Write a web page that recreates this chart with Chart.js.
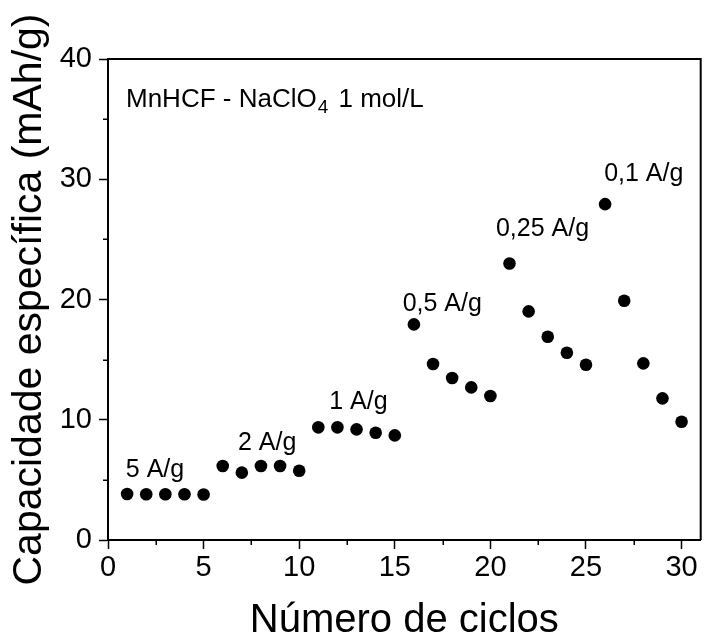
<!DOCTYPE html>
<html>
<head>
<meta charset="utf-8">
<script src="https://cdn.jsdelivr.net/npm/chart.js@4/dist/chart.umd.min.js"></script>
<style>
html,body{margin:0;padding:0;background:#fff;}
#wrap{width:707px;height:641px;}
canvas{display:block;}
</style>
</head>
<body>
<div id="wrap"><canvas id="c" width="707" height="641"></canvas></div>
<script>
// ---- data ----
const cycles = [1,2,3,4,5,6,7,8,9,10,11,12,13,14,15,16,17,18,19,20,21,22,23,24,25,26,27,28,29,30];
const capacity = [3.82,3.80,3.80,3.80,3.78,6.15,5.60,6.15,6.15,5.76,9.37,9.37,9.20,8.92,8.70,
                  17.93,14.63,13.47,12.69,11.97,23.00,19.01,16.90,15.57,14.57,27.93,19.89,14.69,11.78,9.83];
const xTicks = [0,5,10,15,20,25,30];
const yTicks = [0,10,20,30,40];
const xMinor = [2.5,7.5,12.5,17.5,22.5,27.5];
const yMinor = [5,15,25,35];
const rateLabels = ['5 A/g','2 A/g','1 A/g','0,5 A/g','0,25 A/g','0,1 A/g'];
const rateLabelX = [0.93,6.80,11.57,15.41,20.29,25.95];
const rateLabelY = [5.24,7.48,10.89,19.04,25.27,29.84];
const xTitle = 'Número de ciclos';
const yTitle = 'Capacidade específica (mAh/g)';
const noteMain = 'MnHCF - NaClO';
const noteSub = '4';
const noteTail = ' 1 mol/L';

const FONT = 'Liberation Sans, Arial, sans-serif';

const decorations = {
  id: 'decorations',
  afterDraw(chart) {
    const {ctx, chartArea: a, scales: {x, y}} = chart;
    ctx.save();
    // top/right frame
    ctx.strokeStyle = '#000';
    ctx.lineWidth = 2;
    ctx.beginPath();
    ctx.moveTo(a.left, a.top);
    ctx.lineTo(a.right, a.top);
    ctx.lineTo(a.right, a.bottom);
    ctx.stroke();
    // minor ticks
    ctx.lineWidth = 1.5;
    ctx.beginPath();
    xMinor.forEach(v => {
      const p = Math.round(x.getPixelForValue(v)) + 0.25;
      ctx.moveTo(p, a.bottom);
      ctx.lineTo(p, a.bottom + 5);
    });
    yMinor.forEach(v => {
      const p = Math.round(y.getPixelForValue(v)) + 0.25;
      ctx.moveTo(a.left, p);
      ctx.lineTo(a.left - 5, p);
    });
    ctx.stroke();
    // rate labels
    ctx.fillStyle = '#000';
    ctx.textAlign = 'left';
    ctx.textBaseline = 'alphabetic';
    ctx.font = '25px ' + FONT;
    rateLabels.forEach((t, i) => {
      ctx.fillText(t, x.getPixelForValue(rateLabelX[i]), y.getPixelForValue(rateLabelY[i]));
    });
    // note with subscript
    let nx = a.left + 18, ny = a.top + 48;
    ctx.font = '26px ' + FONT;
    ctx.fillText(noteMain, nx, ny);
    nx += ctx.measureText(noteMain).width + 1;
    ctx.font = '19px ' + FONT;
    ctx.fillText(noteSub, nx, ny + 6);
    nx += ctx.measureText(noteSub).width + 3;
    ctx.font = '26px ' + FONT;
    ctx.fillText(noteTail, nx, ny);
    ctx.restore();
  }
};

new Chart(document.getElementById('c'), {
  type: 'scatter',
  data: {
    datasets: [{
      data: cycles.map((c, i) => ({x: c, y: capacity[i]})),
      pointRadius: 6.3,
      pointHoverRadius: 6.3,
      backgroundColor: '#000',
      borderColor: '#000',
      borderWidth: 0,
      showLine: false
    }]
  },
  options: {
    responsive: false,
    animation: false,
    devicePixelRatio: 1,
    layout: {padding: {top: 59, right: 1, left: 0, bottom: 0}},
    plugins: {legend: {display: false}, tooltip: {enabled: false}},
    scales: {
      x: {
        type: 'linear', min: 0, max: 31,
        afterBuildTicks(s) { s.ticks = xTicks.map(v => ({value: v})); },
        afterFit(s) { s.height = 101; },
        grid: {drawOnChartArea: false, drawTicks: true, tickLength: 9, tickColor: '#000', tickWidth: 1.5},
        border: {display: true, color: '#000', width: 2},
        ticks: {color: '#000', font: {family: FONT, size: 29}, padding: 2, maxRotation: 0, autoSkip: false},
        title: {display: true, text: xTitle, color: '#000', font: {family: FONT, size: 40, lineHeight: 1}, padding: {top: -10, bottom: 0}}
      },
      y: {
        type: 'linear', min: 0, max: 40,
        afterBuildTicks(s) { s.ticks = yTicks.map(v => ({value: v})); },
        afterFit(s) { s.width = 108; },
        grid: {drawOnChartArea: false, drawTicks: true, tickLength: 9, tickColor: '#000', tickWidth: 1.5},
        border: {display: true, color: '#000', width: 2},
        ticks: {color: '#000', font: {family: FONT, size: 29}, padding: 7, autoSkip: false},
        title: {display: true, text: yTitle, color: '#000', font: {family: FONT, size: 41, lineHeight: 1}, padding: {top: 9, bottom: 0}}
      }
    }
  },
  plugins: [decorations]
});
</script>
</body>
</html>
